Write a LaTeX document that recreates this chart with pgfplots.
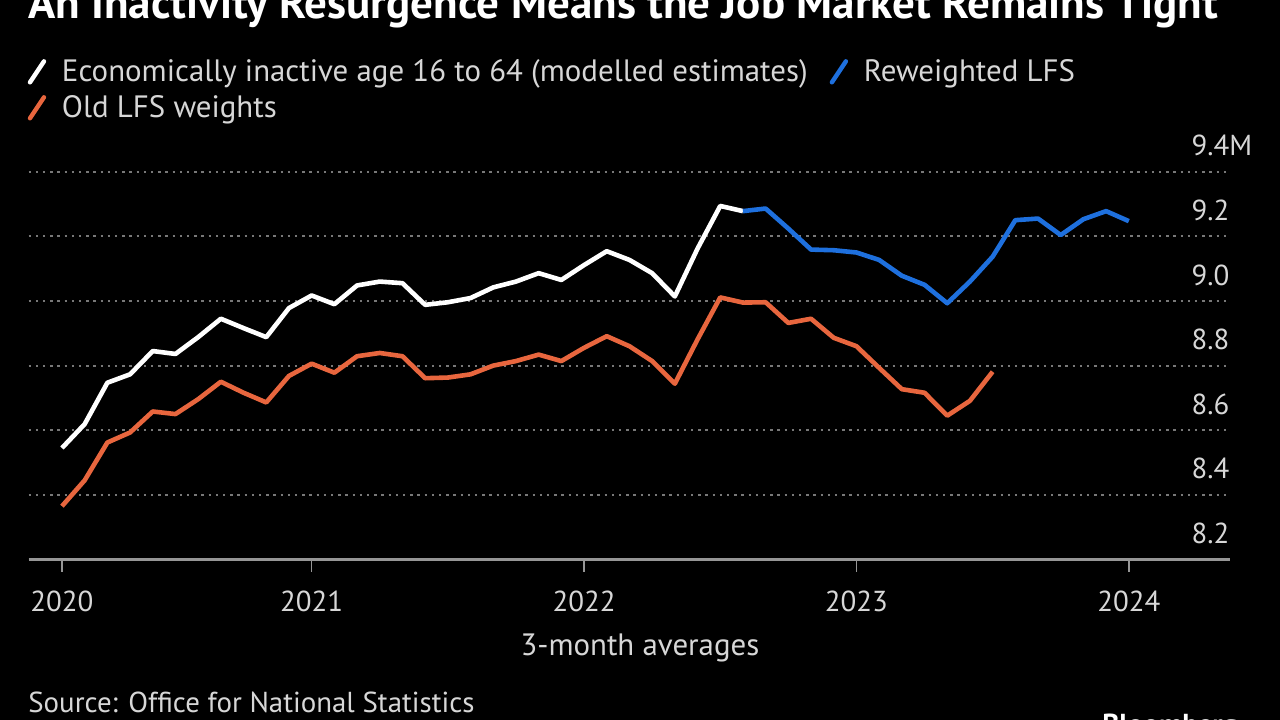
\documentclass[border=0pt]{standalone}
\usepackage{pgfplots}
\pgfplotsset{compat=1.18}
\usepackage{fontspec}
\setmainfont{PT Sans}
\definecolor{bgblack}{RGB}{0,0,0}
\definecolor{txtgray}{RGB}{215,215,215}
\definecolor{gridgray}{RGB}{120,120,120}
\definecolor{axisgray}{RGB}{150,150,150}
\definecolor{lfsblue}{RGB}{30,112,222}
\definecolor{oldorange}{RGB}{232,102,62}
\pgfplotsset{
  slashlegend/.style={legend image code/.code={\path[draw=none] (0bp,0bp) -- (14bp,0bp);\draw[##1, line width=2.2bp, line cap=round] (0bp,-5bp) -- (7bp,5.5bp);}}
}
\begin{document}
\begin{tikzpicture}
\path[use as bounding box] (0,0) rectangle (640bp,360bp);
\fill[bgblack] (0,0) rectangle (640bp,360bp);
\node[anchor=base west, inner sep=0, text=white, font=\bfseries\fontsize{22.6}{26}\selectfont] at (14bp,350.5bp) {An Inactivity Resurgence Means the Job Market Remains Tight};
\begin{axis}[
  at={(14.3bp,80.25bp)}, anchor=south west,
  scale only axis, width=600.5bp, height=193.9bp,
  xmin=-1.47, xmax=51.44, ymin=8.2, ymax=9.4,
  axis x line*=bottom, axis y line*=right,
  x axis line style={draw=axisgray, line width=1.4bp, -},
  y axis line style={draw=none},
  xtick={0,11,23,35,47}, xticklabels={2020,2021,2022,2023,2024},
  ytick={8.2,8.4,8.6,8.8,9.0,9.2,9.4},
  yticklabels={8.2,8.4,8.6,8.8,9.0,9.2,9.4M},
  tick align=outside, major tick length=6bp,
  xtick style={draw=axisgray, line width=0.8bp},
  ytick style={draw=none},
  ymajorgrids, grid style={draw=gridgray, line width=1bp, dash pattern=on 1.2bp off 2.4bp},
  ticklabel style={text=txtgray, font=\fontsize{14.5}{17}\selectfont},
  /pgf/number format/assume math mode=true,
  xticklabel style={yshift=-6bp},
  yticklabel style={anchor=west, xshift=-28.5bp, yshift=13bp},
  xlabel={3-month averages},
  xlabel style={at={(axis description cs:0.509,0)}, anchor=center, yshift=-44.25bp, text=txtgray, font=\fontsize{15.5}{18}\selectfont},
  legend columns=2,
  legend style={draw=none, fill=none, text=txtgray, font=\fontsize{15.5}{18}\selectfont,
    at={(axis description cs:-0.006,1.31)}, anchor=north west,
    /tikz/every even column/.append style={column sep=9bp},
    row sep=1.5bp},
  legend cell align=left,
  clip=false,
]
\addplot[white, line width=2.3bp, line join=round, slashlegend] coordinates {
(0,8.545) (1,8.619) (2,8.747) (3,8.773) (4,8.845) (5,8.836) (6,8.888) (7,8.945)
(8,8.916) (9,8.888) (10,8.978) (11,9.017) (12,8.990) (13,9.048) (14,9.060) (15,9.055)
(16,8.988) (17,8.996) (18,9.009) (19,9.042) (20,9.060) (21,9.086) (22,9.065) (23,9.111)
(24,9.154) (25,9.127) (26,9.086) (27,9.014) (28,9.162) (29,9.294) (30,9.278)
};
\addlegendentry{Economically inactive age 16 to 64 (modelled estimates)}
\addplot[lfsblue, line width=2.3bp, line join=round, slashlegend] coordinates {
(30,9.278) (31,9.286) (32,9.224) (33,9.159) (34,9.157) (35,9.150) (36,9.127) (37,9.078)
(38,9.050) (39,8.993) (40,9.060) (41,9.137) (42,9.250) (43,9.255) (44,9.204) (45,9.253)
(46,9.278) (47,9.247)
};
\addlegendentry{Reweighted LFS}
\addplot[oldorange, line width=2.3bp, line join=round, slashlegend] coordinates {
(0,8.365) (1,8.445) (2,8.562) (3,8.593) (4,8.658) (5,8.650) (6,8.696) (7,8.750)
(8,8.716) (9,8.686) (10,8.768) (11,8.806) (12,8.778) (13,8.829) (14,8.839) (15,8.829)
(16,8.761) (17,8.763) (18,8.773) (19,8.800) (20,8.814) (21,8.834) (22,8.814) (23,8.855)
(24,8.891) (25,8.860) (26,8.814) (27,8.744) (28,8.881) (29,9.011) (30,8.995) (31,8.996)
(32,8.932) (33,8.945) (34,8.886) (35,8.860) (36,8.793) (37,8.727) (38,8.716) (39,8.645)
(40,8.691) (41,8.781)
};
\addlegendentry{Old LFS weights}
\end{axis}
\node[anchor=base west, inner sep=0, text=txtgray, font=\fontsize{14.5}{17}\selectfont] at (14bp,4bp) {Source: Office for National Statistics};
\node[anchor=north west, inner sep=0, text=white, font=\bfseries\fontsize{14.5}{17}\selectfont] at (551bp,3bp) {Bloomberg};
\end{tikzpicture}
\end{document}
